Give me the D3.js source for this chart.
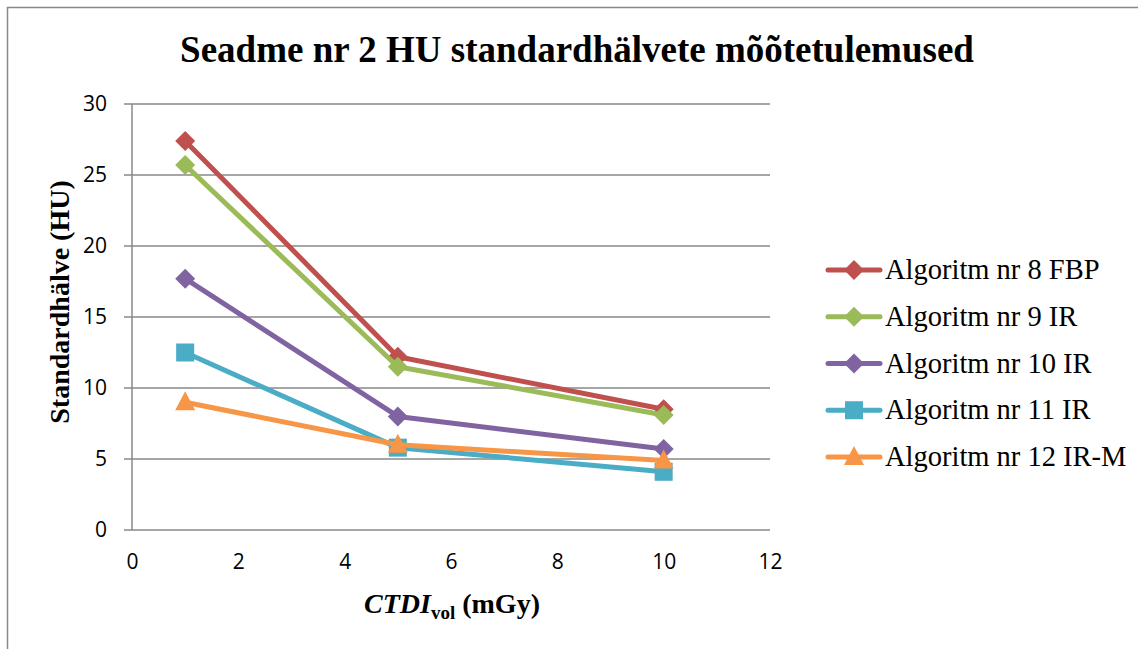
<!DOCTYPE html>
<html><head><meta charset="utf-8">
<script src="https://cdn.jsdelivr.net/npm/d3@7"></script>
<style>body{margin:0;background:#fff}</style>
</head><body>
<svg id="c" width="1138" height="649"></svg>
<script>
const xValues = [1, 5, 10];
const seriesNames = ["Algoritm nr 8 FBP","Algoritm nr 9 IR","Algoritm nr 10 IR","Algoritm nr 11 IR","Algoritm nr 12 IR-M"];
const s8 = [27.4, 12.2, 8.5];
const s9 = [25.7, 11.5, 8.1];
const s10 = [17.7, 8.0, 5.7];
const s11 = [12.5, 5.8, 4.1];
const s12 = [9.0, 6.0, 4.9];
const seriesValues = [s8, s9, s10, s11, s12];
const colors = ["#C0504D","#9BBB59","#8064A2","#4BACC6","#F79646"];
const markers = ["diamond","diamond","diamond","square","triangle"];
const xTicks = [0,2,4,6,8,10,12];
const yTicks = [0,5,10,15,20,25,30];

const svg = d3.select("#c");
svg.append("rect").attr("x",7.5).attr("y",7.5).attr("width",1140).attr("height",660)
  .attr("fill","#fff").attr("stroke","#888").attr("stroke-width",1.5);

const x = d3.scaleLinear().domain([0,12]).range([132,770]);
const y = d3.scaleLinear().domain([0,30]).range([530,104]);

svg.append("g").selectAll("line").data(yTicks).join("line")
  .attr("x1",124).attr("x2",x(12)).attr("y1",d=>y(d)).attr("y2",d=>y(d))
  .attr("stroke","#888").attr("stroke-width",1.5);
svg.append("line").attr("x1",x(0)).attr("x2",x(0)).attr("y1",y(30)).attr("y2",y(0))
  .attr("stroke","#888").attr("stroke-width",1.5);

const yAxis = d3.axisLeft(y).tickValues(yTicks).tickSize(0).tickPadding(25);
const gy = svg.append("g").attr("transform",`translate(${x(0)},0)`).call(yAxis);
gy.select(".domain").remove();
gy.selectAll("text").attr("font-family","'Open Sans', sans-serif").attr("font-size",21).attr("fill","#000");

const xAxis = d3.axisBottom(x).tickValues(xTicks).tickSize(0).tickPadding(24);
const gx = svg.append("g").attr("transform",`translate(0,${y(0)})`).call(xAxis);
gx.select(".domain").remove();
gx.selectAll("text").attr("font-family","'Open Sans', sans-serif").attr("font-size",21).attr("fill","#000");

svg.append("text").attr("x",577).attr("y",62).attr("text-anchor","middle")
  .attr("font-family","'Liberation Serif', serif").attr("font-weight","bold").attr("font-size",37)
  .text("Seadme nr 2 HU standardhälvete mõõtetulemused");

svg.append("text").attr("transform","translate(69,302) rotate(-90)").attr("text-anchor","middle")
  .attr("font-family","'Liberation Serif', serif").attr("font-weight","bold").attr("font-size",28)
  .text("Standardhälve (HU)");

const xt = svg.append("text").attr("x",452).attr("y",613).attr("text-anchor","middle")
  .attr("font-family","'Liberation Serif', serif").attr("font-weight","bold").attr("font-size",28);
xt.append("tspan").attr("font-style","italic").text("CTDI");
xt.append("tspan").attr("font-size",19).attr("dy",6).text("vol");
xt.append("tspan").attr("dy",-6).text(" (mGy)");

const line = d3.line().x(d=>x(d[0])).y(d=>y(d[1]));

function marker(g, type, cx, cy, color){
  if(type==="diamond"){
    g.append("path").attr("d",`M${cx},${cy-10}L${cx+10},${cy}L${cx},${cy+10}L${cx-10},${cy}Z`).attr("fill",color);
  } else if(type==="square"){
    g.append("rect").attr("x",cx-9).attr("y",cy-9).attr("width",18).attr("height",18).attr("fill",color);
  } else {
    g.append("path").attr("d",`M${cx},${cy-11}L${cx+10},${cy+8}L${cx-10},${cy+8}Z`).attr("fill",color);
  }
}

seriesValues.forEach((vals,i)=>{
  const pts = xValues.map((xv,j)=>[xv,vals[j]]);
  const g = svg.append("g");
  g.append("path").attr("d",line(pts)).attr("fill","none").attr("stroke",colors[i]).attr("stroke-width",5).attr("stroke-linejoin","round");
  pts.forEach(p=>marker(g, markers[i], x(p[0]), y(p[1]), colors[i]));
});

const legY = d3.scaleLinear().domain([0,4]).range([270,457]);
seriesNames.forEach((name,i)=>{
  const g = svg.append("g");
  const ly = legY(i);
  g.append("line").attr("x1",828).attr("x2",880).attr("y1",ly).attr("y2",ly).attr("stroke",colors[i]).attr("stroke-width",5).attr("stroke-linecap","round");
  marker(g, markers[i], 854, ly, colors[i]);
  g.append("text").attr("x",885).attr("y",ly+9).attr("font-family","'Liberation Serif', serif").attr("font-size",28.5).text(name);
});
</script>
</body></html>
